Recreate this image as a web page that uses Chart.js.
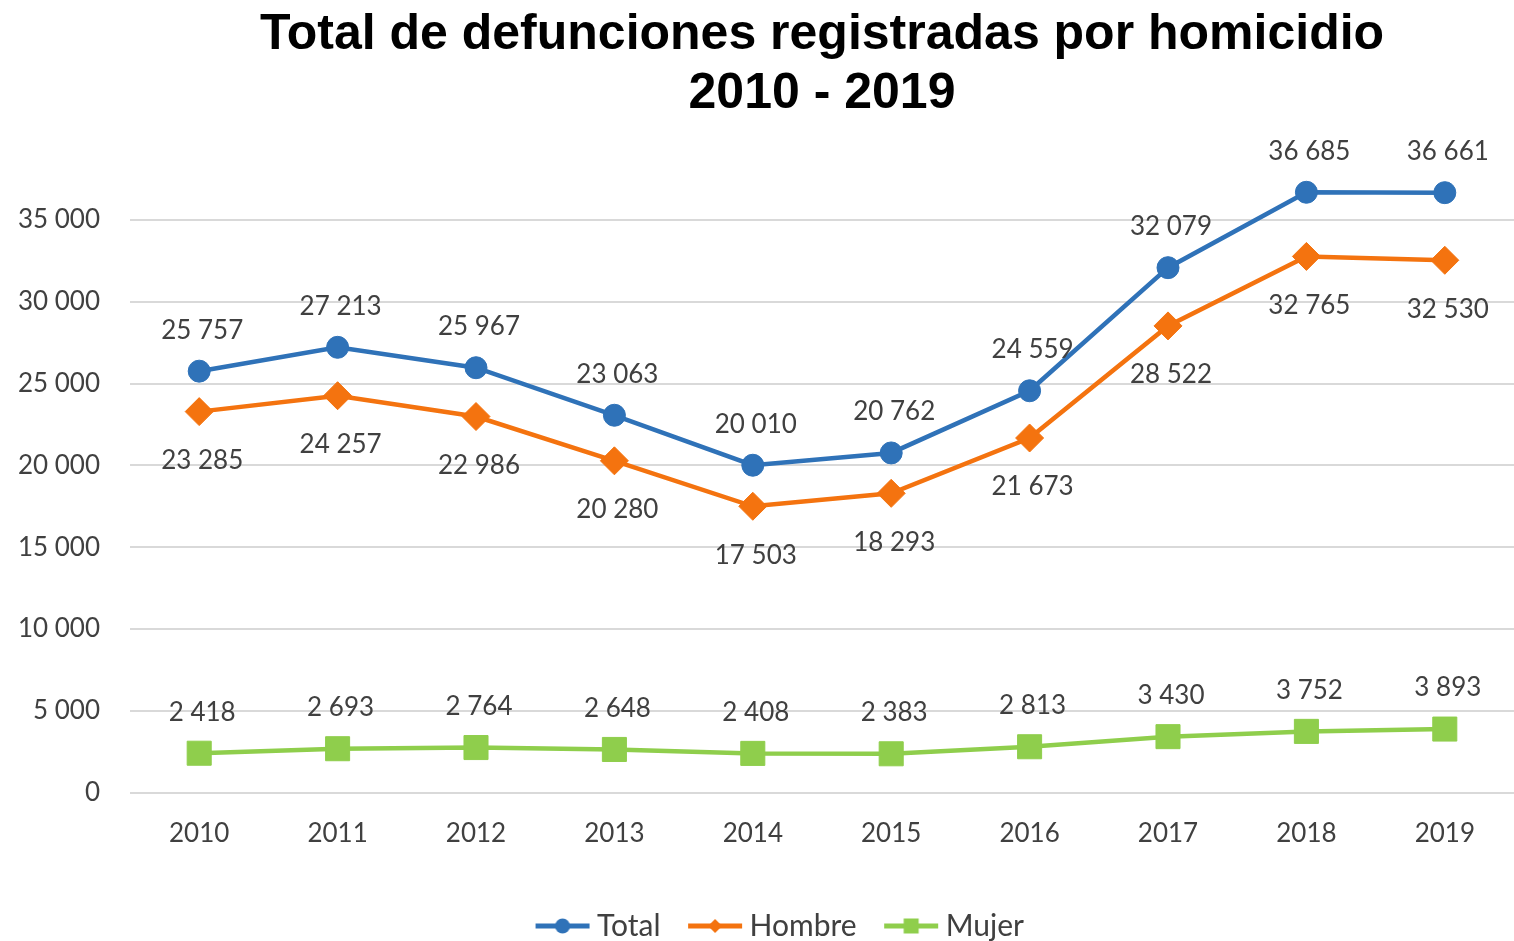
<!DOCTYPE html>
<html>
<head>
<meta charset="utf-8">
<script src="https://cdn.jsdelivr.net/npm/chart.js@4.4.1/dist/chart.umd.min.js"></script>
<style>
  html, body { margin: 0; padding: 0; background: #fff; overflow: hidden; }
  #wrap { width: 1514px; height: 941px; }
  canvas { display: block; }
</style>
</head>
<body>
<div id="wrap"><canvas id="homChart" width="1514" height="941"></canvas></div>
<script>
const years = ['2010', '2011', '2012', '2013', '2014', '2015', '2016', '2017', '2018', '2019'];
const total = [25757, 27213, 25967, 23063, 20010, 20762, 24559, 32079, 36685, 36661];
const hombre = [23285, 24257, 22986, 20280, 17503, 18293, 21673, 28522, 32765, 32530];
const mujer = [2418, 2693, 2764, 2648, 2408, 2383, 2813, 3430, 3752, 3893];

const blue = '#2F72B8';
const orange = '#F4730F';
const green = '#8FCE4C';
const textColor = '#404040';
const font = 'Lato, "Open Sans", sans-serif';

function fmt(n) {
    return String(n).replace(/\B(?=(\d{3})+(?!\d))/g, ' ');
}

// legend icon: blank on the left (spacing), then a short line with the marker in the middle
const ICON_BOX = 72;
function makeIcon(color, shape) {
    const c = document.createElement('canvas');
    c.width = ICON_BOX + 17;
    c.height = 20;
    const g = c.getContext('2d');
    const x0 = c.width - 56, xm = x0 + 28;
    g.strokeStyle = color;
    g.fillStyle = color;
    g.lineWidth = 5;
    g.beginPath();
    g.moveTo(x0 + 1, 10);
    g.lineTo(x0 + 55, 10);
    g.stroke();
    g.beginPath();
    if (shape === 'circle') {
        g.arc(xm, 10, 7.5, 0, Math.PI * 2);
    } else if (shape === 'diamond') {
        g.moveTo(xm, 3); g.lineTo(xm + 7, 10); g.lineTo(xm, 17); g.lineTo(xm - 7, 10); g.closePath();
    } else {
        g.rect(xm - 7.5, 2.5, 15, 15);
    }
    g.fill();
    return c;
}
const legendIcons = [makeIcon(blue, 'circle'), makeIcon(orange, 'diamond'), makeIcon(green, 'square')];

// value labels: Total and Mujer above the point, Hombre below
const valueLabels = {
    id: 'valueLabels',
    afterDatasetsDraw(chart) {
        const c = chart.ctx;
        c.save();
        c.font = '26px ' + font;
        c.fillStyle = textColor;
        c.textAlign = 'center';
        c.textBaseline = 'middle';
        chart.data.datasets.forEach((ds, i) => {
            const meta = chart.getDatasetMeta(i);
            const off = i === 1 ? 49 : -41;
            meta.data.forEach((pt, j) => {
                c.fillText(fmt(ds.data[j]), pt.x + 3, pt.y + off);
            });
        });
        c.restore();
    }
};

const ctx = document.getElementById('homChart').getContext('2d');
const homChart = new Chart(ctx, {
    type: 'line',
    data: {
        labels: years,
        datasets: [{
            label: 'Total',
            data: total,
            borderColor: blue,
            backgroundColor: blue,
            borderWidth: 4.5,
            pointStyle: 'circle',
            pointRadius: 11,
            pointBorderWidth: 1
        }, {
            label: 'Hombre',
            data: hombre,
            borderColor: orange,
            backgroundColor: orange,
            borderWidth: 4.5,
            pointStyle: 'rectRot',
            pointRadius: 14,
            pointBorderWidth: 1
        }, {
            label: 'Mujer',
            data: mujer,
            borderColor: green,
            backgroundColor: green,
            borderWidth: 4.5,
            pointStyle: 'rect',
            pointRadius: 17,
            pointBorderWidth: 1
        }]
    },
    options: {
        responsive: false,
        animation: false,
        layout: {
            autoPadding: false,
            padding: { left: 14, right: -6, top: 4, bottom: -10 }
        },
        scales: {
            x: {
                offset: true,
                grid: { display: false },
                border: { display: false },
                ticks: {
                    color: textColor,
                    font: { family: font, size: 26 },
                    padding: 17
                },
                afterFit(axis) {
                    axis.height += 43;
                    axis.paddingLeft = 0;
                    axis.paddingRight = 0;
                }
            },
            y: {
                min: 0,
                max: 40000,
                afterBuildTicks(axis) {
                    axis.ticks = axis.ticks.filter(t => t.value <= 35000);
                },
                afterFit(axis) {
                    axis.width = 116;
                },
                grid: { color: '#D9D9D9', lineWidth: 2, drawTicks: false },
                border: { display: false },
                ticks: {
                    stepSize: 5000,
                    color: textColor,
                    font: { family: font, size: 26 },
                    padding: 30,
                    callback: v => fmt(v)
                }
            }
        },
        plugins: {
            title: {
                display: true,
                fullSize: false,
                text: ['Total de defunciones registradas por homicidio', '2010 - 2019'],
                color: '#000',
                font: { family: '"Liberation Sans", Arial, sans-serif', size: 50, weight: 'bold', lineHeight: 1.18 },
                padding: { top: 2, bottom: 14 }
            },
            legend: {
                position: 'bottom',
                labels: {
                    usePointStyle: true,
                    pointStyleWidth: ICON_BOX,
                    boxHeight: 20,
                    color: textColor,
                    font: { family: font, size: 30 },
                    padding: 2,
                    generateLabels(chart) {
                        const items = Chart.defaults.plugins.legend.labels.generateLabels(chart);
                        items.forEach((it, i) => { it.pointStyle = legendIcons[i]; });
                        return items;
                    }
                }
            },
            tooltip: { enabled: false }
        }
    },
    plugins: [valueLabels]
});
</script>
</body>
</html>
